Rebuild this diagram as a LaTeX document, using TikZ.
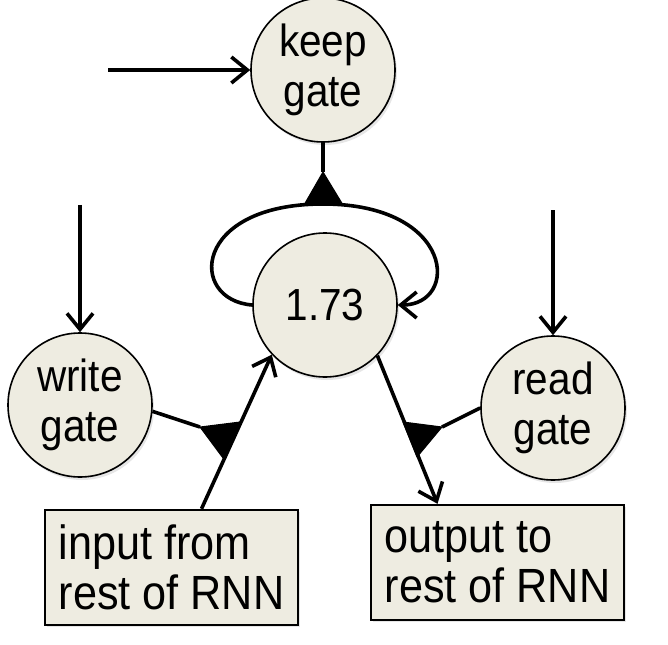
\documentclass[tikz,border=0pt]{standalone}
\usepackage{fontspec}
\setmainfont{Liberation Sans}[FakeStretch=0.9]
\usetikzlibrary{calc,positioning,arrows.meta,shadows}
\definecolor{gatefill}{RGB}{238,236,225}
\begin{document}
\begin{tikzpicture}[x=1pt, y=-1pt,
  gate/.style={draw, circle, line width=1.6pt, fill=gatefill, minimum size=144pt, inner sep=0pt, align=center,
    font=\fontsize{45}{50}\selectfont, drop shadow={opacity=0.2, shadow xshift=2pt, shadow yshift=-3pt}},
  iobox/.style={draw, rectangle, line width=2.4pt, fill=gatefill, minimum width=253pt, minimum height=115pt, align=left,
    font=\fontsize{48}{50}\selectfont, drop shadow={opacity=0.2, shadow xshift=2pt, shadow yshift=-2pt}},
  sig/.style={line width=3.6pt, -{Straight Barb[length=16pt, width=26pt, line width=3.6pt]}},
  wire/.style={line width=3.6pt},
  tri/.style={fill=black, draw=black, line width=1pt, line join=round}]
\useasboundingbox (0,0) rectangle (668,644);
\node[gate] (keep) at (323,70) {keep\\gate};
\node[gate] (cell) at (325,305) {1.73};
\node[gate] (write) at (80,405) {write\\gate};
\node[gate] (read) at (553,408) {read\\gate};
\node[iobox] (in) at (171.5,567.5) {input from\\rest of RNN};
\node[iobox] (out) at (497.5,562.5) {output to\\rest of RNN};
%inputs to the gates
\coordinate (keepIn) at (108,70);
\coordinate (writeIn) at (80,205);
\coordinate (readIn) at (553,210);
\foreach \i/\j in {keepIn/keep.west,writeIn/write.north,readIn/read.north}{\draw[sig] (\i) -- (\j);}
%multiplicative triangles
\coordinate (kA) at (323,172); \coordinate (kB) at (304,205); \coordinate (kC) at (343,205);
\coordinate (wA) at (200,427); \coordinate (wB) at (240,422); \coordinate (wC) at (223,458);
\coordinate (rA) at (442,427); \coordinate (rB) at (403,422); \coordinate (rC) at (417,457);
\foreach \a/\b/\c in {kA/kB/kC,wA/wB/wC,rA/rB/rC}{\filldraw[tri] (\a) -- (\b) -- (\c) -- cycle;}
%gate wires
\draw[wire] (keep.south) -- (kA);
\draw[wire] (write.-5) -- (wA);
\draw[wire] (read.west) -- (rA);
%self loop
\draw[wire] (cell.west) .. controls (188,300) and (192,204) .. (323,204);
\draw[sig] (323,204) .. controls (455,204) and (460,305) .. (cell.east);
%input and output
\draw[sig] ($(in.north)+(30,0)$) -- (cell.223);
\draw[sig] (cell.-44) -- ($(out.north)+(-60,0)$);
\end{tikzpicture}
\end{document}
